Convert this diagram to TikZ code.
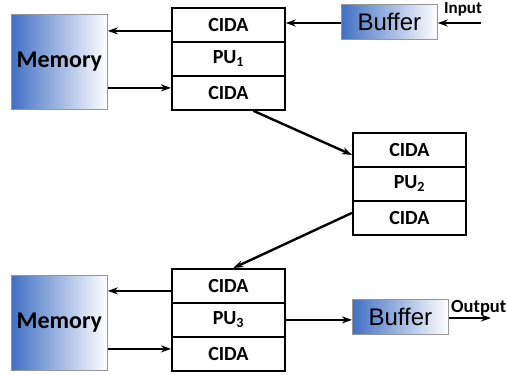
\documentclass[tikz,border=0pt]{standalone}
\usepackage{fontspec}
\setmainfont{Carlito}
\newfontfamily\buffont{Liberation Sans}
\usetikzlibrary{arrows.meta}
\definecolor{memblue}{RGB}{66,112,196}
\definecolor{framegray}{RGB}{150,150,150}
\tikzset{
  cell/.style={draw=black, line width=1.8pt, fill=white, minimum width=113pt,
    minimum height=34pt, inner sep=0pt, anchor=north west,
    font=\fontsize{20}{24}\selectfont\bfseries},
  memorybox/.style={draw=framegray, line width=0.8pt, left color=memblue, right color=white,
    minimum width=96pt, minimum height=95pt, inner sep=0pt, anchor=north west,
    font=\fontsize{24}{28}\selectfont\bfseries},
  bufferbox/.style={draw=framegray, line width=0.8pt, left color=memblue, right color=white,
    minimum width=96pt, minimum height=35pt, inner sep=0pt, anchor=north west,
    font=\buffont\fontsize{24}{28}\selectfont},
  arr/.style={line width=2.4pt, -{Stealth[length=10pt,width=7pt]}},
  iolabel/.style={font=\fontsize{17}{20}\selectfont\bfseries, inner sep=0pt, anchor=base west}
}
\begin{document}
\begin{tikzpicture}[x=1pt,y=-1pt]
\useasboundingbox (0,0) rectangle (507,375);

% top memory, processing unit 1 and input buffer
\node[memorybox] (mem1) at (11,14) {Memory};
\node[cell] (a1) at (171,7) {CIDA};
\node[cell] (b1) at (171,41) {PU\textsubscript{1}};
\node[cell] (c1) at (171,75) {CIDA};
\node[bufferbox] (buf1) at (341,4) {Buffer};

% middle processing unit 2
\node[cell] (a2) at (352,132) {CIDA};
\node[cell] (b2) at (352,166) {PU\textsubscript{2}};
\node[cell] (c2) at (352,200) {CIDA};

% bottom memory, processing unit 3 and output buffer
\node[memorybox] (mem3) at (11,275) {Memory};
\node[cell] (a3) at (171,268) {CIDA};
\node[cell] (b3) at (171,302) {PU\textsubscript{3}};
\node[cell] (c3) at (171,336) {CIDA};
\node[bufferbox] (buf2) at (352,299) {Buffer};

% input / output ends
\coordinate (inp) at (481,23);
\coordinate (outp) at (491,318);
\node[iolabel] (inlab) at (444,13) {Input};
\node[iolabel, font=\fontsize{18.5}{21}\selectfont\bfseries] (outlab) at (451,312) {Output};

% connectors of the top stage
\coordinate (p1) at ([yshift=-6pt]a1.west);
\draw[arr] (p1) -- (p1 -| mem1.east);
\coordinate (p2) at ([yshift=5pt]c1.west);
\draw[arr] (p2 -| mem1.east) -- (p2);
\draw[arr] (inp) -- (inp -| buf1.east);
\draw[arr] (inp -| buf1.west) -- (inp -| a1.east);

% connectors between stages
\draw[arr] ([xshift=25pt]c1.south) -- ([yshift=-5pt]a2.west);
\draw[arr] ([yshift=5pt]c2.west) -- ([xshift=5pt]a3.north);

% connectors of the bottom stage
\coordinate (p3) at ([yshift=-5pt]a3.west);
\draw[arr] (p3) -- (p3 -| mem3.east);
\coordinate (p4) at ([yshift=5pt]c3.west);
\draw[arr] (p4 -| mem3.east) -- (p4);
\draw[arr] (b3.east) -- (b3.east -| buf2.west);
\draw[arr] (outp -| buf2.east) -- (outp);
\end{tikzpicture}
\end{document}
